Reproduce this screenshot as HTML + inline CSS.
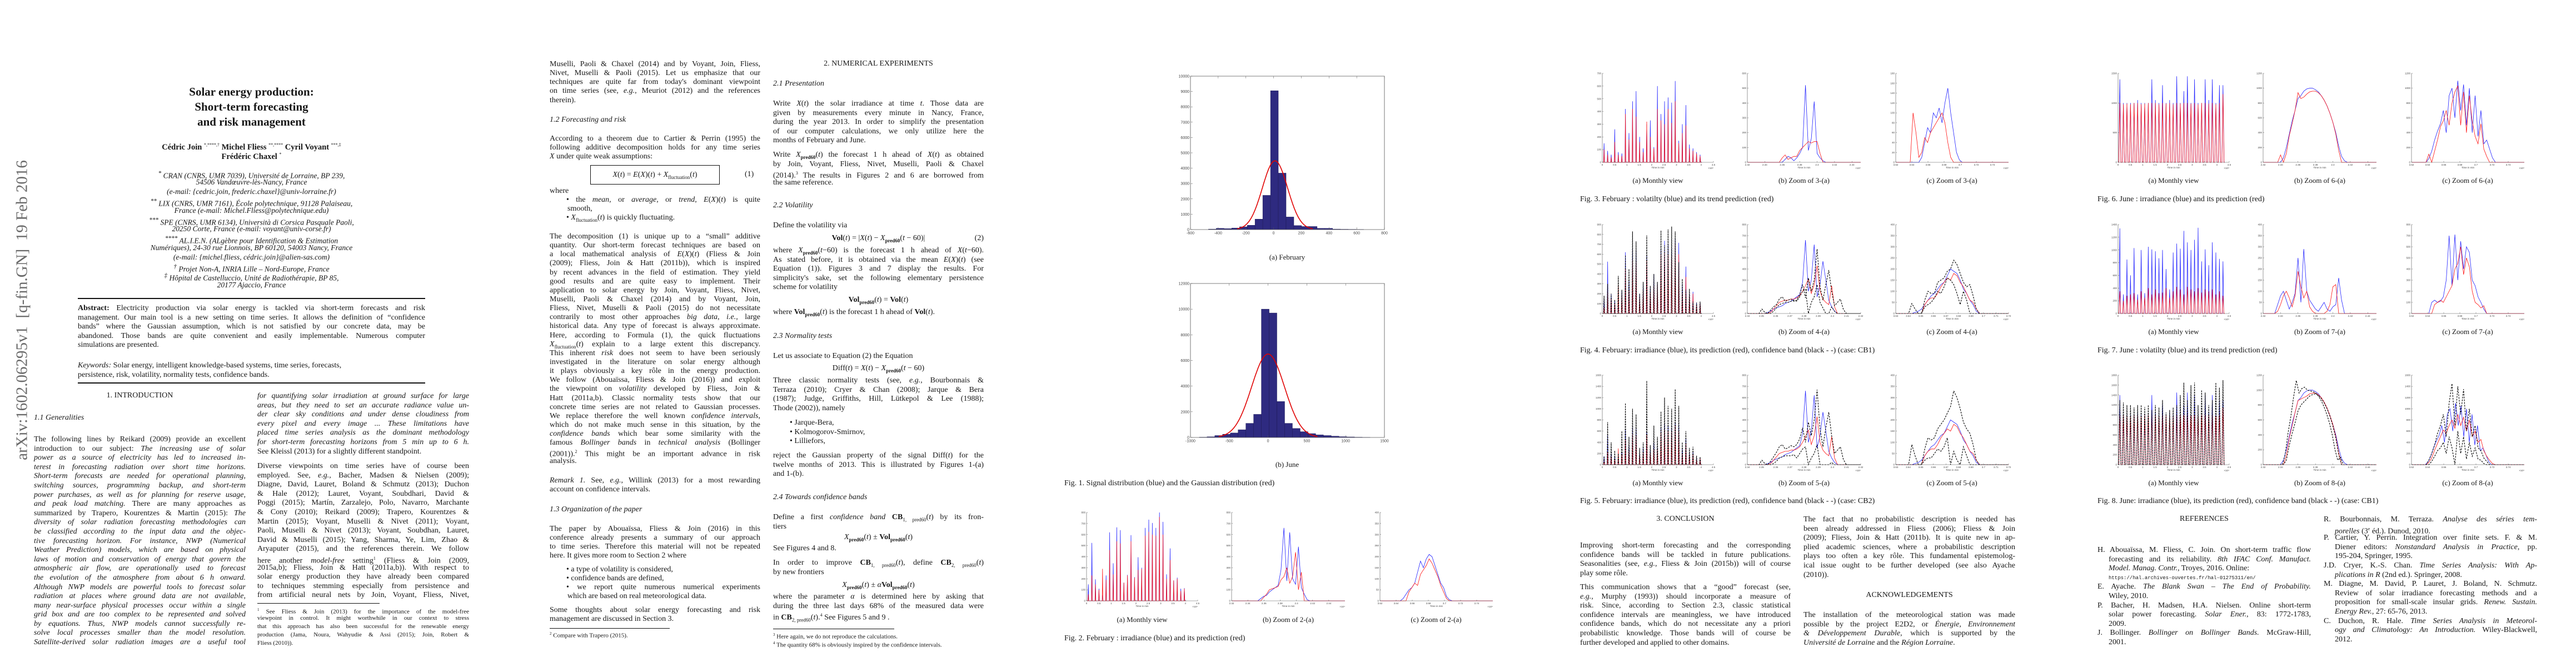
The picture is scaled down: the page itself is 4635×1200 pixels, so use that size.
<!DOCTYPE html>
<html><head><meta charset="utf-8">
<style>
html,body{margin:0;padding:0;background:#fff}
#page{position:relative;width:4635px;height:1200px;overflow:hidden;background:#fff;color:#161616;font-family:"Liberation Serif",serif}
.b{position:absolute;font-size:14px}
.b>div{height:16.6px;line-height:16.6px;white-space:nowrap}
.s>div{height:16.15px;line-height:16.15px}
.j{text-align:justify;text-align-last:justify}
.c{text-align:center}
.ind{padding-left:30px}
.bul{padding-left:18px}
.hang{padding-left:20px}
.fn{font-size:11px}
.fn>div{height:15px;line-height:15px}
.rule{position:absolute;background:#111}
.cap{position:absolute;font-size:14px;white-space:nowrap}
.sub{position:absolute;font-size:13px;white-space:nowrap;transform:translateX(-50%)}
#figs{position:absolute;left:0;top:0}
</style></head>
<body>
<div id="page">

<div style="position:absolute;left:40px;top:558px;transform:translate(-50%,-50%) rotate(-90deg);font-size:29px;color:#6a6a6a;white-space:nowrap">arXiv:1602.06295v1&nbsp; [q-fin.GN]&nbsp; 19 Feb 2016</div>

<!-- PAGE 1 -->
<div class="b c" style="left:140px;top:152px;width:625px;font-size:21px;font-weight:bold"><div style="height:27px;line-height:27px">Solar energy production:</div><div style="height:27px;line-height:27px">Short-term forecasting</div><div style="height:27px;line-height:27px">and risk management</div></div>
<div class="b c" style="left:140px;top:253px;width:625px;font-weight:bold;font-size:14.5px"><div>Cédric Join <sup style="font-size:8px;font-weight:normal">*,****,†</sup> Michel Fliess <sup style="font-size:8px;font-weight:normal">**,****</sup> Cyril Voyant <sup style="font-size:8px;font-weight:normal">***,‡</sup></div><div style="height:17px">Frédéric Chaxel <sup style="font-size:8px;font-weight:normal">*</sup></div></div>
<div class="b c" style="left:140px;top:303.6px;width:625px;font-style:italic;font-size:13.5px">
<div style="height:16.8px"><sup>*</sup> CRAN (CNRS, UMR 7039), Université de Lorraine, BP 239,</div>
<div style="height:16.8px">54506 Vandœuvre-lès-Nancy, France</div>
<div style="height:16.8px">(e-mail: {cedric.join, frederic.chaxel}@univ-lorraine.fr)</div>
<div style="height:16.8px"><sup>**</sup> LIX (CNRS, UMR 7161), École polytechnique, 91128 Palaiseau,</div>
<div style="height:16.8px">France (e-mail: Michel.Fliess@polytechnique.edu)</div>
<div style="height:16.8px"><sup>***</sup> SPE (CNRS, UMR 6134), Università di Corsica Pasquale Paoli,</div>
<div style="height:16.8px">20250 Corte, France (e-mail: voyant@univ-corse.fr)</div>
<div style="height:16.8px"><sup>****</sup> AL.I.E.N. (ALgèbre pour Identification &amp; Estimation</div>
<div style="height:16.8px">Numériques), 24-30 rue Lionnois, BP 60120, 54003 Nancy, France</div>
<div style="height:16.8px">(e-mail: {michel.fliess, cédric.join}@alien-sas.com)</div>
<div style="height:16.8px"><sup>†</sup> Projet Non-A, INRIA Lille – Nord-Europe, France</div>
<div style="height:16.8px"><sup>‡</sup> Hôpital de Castelluccio, Unité de Radiothérapie, BP 85,</div>
<div style="height:16.8px">20177 Ajaccio, France</div>
</div>
<div class="rule" style="left:140px;top:536px;width:625px;height:1.6px"></div>
<div class="b" style="left:140px;top:547px;width:625px">
<div class="j"><b>Abstract:</b> Electricity production via solar energy is tackled via short-term forecasts and risk</div>
<div class="j">management. Our main tool is a new setting on time series. It allows the definition of “confidence</div>
<div class="j">bands” where the Gaussian assumption, which is not satisfied by our concrete data, may be</div>
<div class="j">abandoned. Those bands are quite convenient and easily implementable. Numerous computer</div>
<div>simulations are presented.</div>
</div>
<div class="b" style="left:140px;top:650px;width:625px">
<div><i>Keywords:</i> Solar energy, intelligent knowledge-based systems, time series, forecasts,</div>
<div>persistence, risk, volatility, normality tests, confidence bands.</div>
</div>
<div class="rule" style="left:140px;top:688px;width:625px;height:1.6px"></div>

<div class="b c" style="left:61px;top:704px;width:381px"><div>1. INTRODUCTION</div></div>
<div class="b" style="left:61px;top:744px;width:381px;font-style:italic"><div>1.1 Generalities</div></div>
<div class="b" style="left:61px;top:783px;width:381px">
<div class="j">The following lines by Reikard (2009) provide an excellent</div>
<div class="j">introduction to our subject: <i>The increasing use of solar</i></div>
<div class="j"><i>power as a source of electricity has led to increased in-</i></div>
<div class="j"><i>terest in forecasting radiation over short time horizons.</i></div>
<div class="j"><i>Short-term forecasts are needed for operational planning,</i></div>
<div class="j"><i>switching sources, programming backup, and short-term</i></div>
<div class="j"><i>power purchases, as well as for planning for reserve usage,</i></div>
<div class="j"><i>and peak load matching.</i> There are many approaches as</div>
<div class="j">summarized by Trapero, Kourentzes &amp; Martin (2015): <i>The</i></div>
<div class="j"><i>diversity of solar radiation forecasting methodologies can</i></div>
<div class="j"><i>be classified according to the input data and the objec-</i></div>
<div class="j"><i>tive forecasting horizon. For instance, NWP (Numerical</i></div>
<div class="j"><i>Weather Prediction) models, which are based on physical</i></div>
<div class="j"><i>laws of motion and conservation of energy that govern the</i></div>
<div class="j"><i>atmospheric air flow, are operationally used to forecast</i></div>
<div class="j"><i>the evolution of the atmosphere from about 6 h onward.</i></div>
<div class="j"><i>Although NWP models are powerful tools to forecast solar</i></div>
<div class="j"><i>radiation at places where ground data are not available,</i></div>
<div class="j"><i>many near-surface physical processes occur within a single</i></div>
<div class="j"><i>grid box and are too complex to be represented and solved</i></div>
<div class="j"><i>by equations. Thus, NWP models cannot successfully re-</i></div>
<div class="j"><i>solve local processes smaller than the model resolution.</i></div>
<div class="j"><i>Satellite-derived solar radiation images are a useful tool</i></div>
</div>
<div class="b" style="left:463px;top:705px;width:381px">
<div class="j"><i>for quantifying solar irradiation at ground surface for large</i></div>
<div class="j"><i>areas, but they need to set an accurate radiance value un-</i></div>
<div class="j"><i>der clear sky conditions and under dense cloudiness from</i></div>
<div class="j"><i>every pixel and every image ... These limitations have</i></div>
<div class="j"><i>placed time series analysis as the dominant methodology</i></div>
<div class="j"><i>for short-term forecasting horizons from 5 min up to 6 h.</i></div>
<div>See Kleissl (2013) for a slightly different standpoint.</div>
</div>
<div class="b" style="left:463px;top:831px;width:381px">
<div class="j">Diverse viewpoints on time series have of course been</div>
<div class="j">employed. See, <i>e.g.</i>, Bacher, Madsen &amp; Nielsen (2009);</div>
<div class="j">Diagne, David, Lauret, Boland &amp; Schmutz (2013); Duchon</div>
<div class="j">&amp; Hale (2012); Lauret, Voyant, Soubdhari, David &amp;</div>
<div class="j">Poggi (2015); Martín, Zarzalejo, Polo, Navarro, Marchante</div>
<div class="j">&amp; Cony (2010); Reikard (2009); Trapero, Kourentzes &amp;</div>
<div class="j">Martin (2015); Voyant, Muselli &amp; Nivet (2011); Voyant,</div>
<div class="j">Paoli, Muselli &amp; Nivet (2013); Voyant, Soubdhan, Lauret,</div>
<div class="j">David &amp; Muselli (2015); Yang, Sharma, Ye, Lim, Zhao &amp;</div>
<div class="j">Aryaputer (2015), and the references therein. We follow</div>
<div class="j">here another <i>model-free</i> setting<sup style="font-size:8px">1</sup> (Fliess &amp; Join (2009,</div>
<div class="j">2015a,b); Fliess, Join &amp; Hatt (2011a,b)). With respect to</div>
<div class="j">solar energy production they have already been compared</div>
<div class="j">to techniques stemming especially from persistence and</div>
<div class="j">from artificial neural nets by Join, Voyant, Fliess, Nivet,</div>
</div>
<div class="rule" style="left:463px;top:1085px;width:220px;height:1px"></div>
<div class="b fn" style="left:463px;top:1090px;width:381px">
<div class="j"><sup style="font-size:7px">1</sup> See Fliess &amp; Join (2013) for the importance of the model-free</div>
<div class="j">viewpoint in control. It might worthwhile in our context to stress</div>
<div class="j">that this approach has also been successful for the renewable energy</div>
<div class="j">production (Jama, Noura, Wahyudie &amp; Assi (2015); Join, Robert &amp;</div>
<div>Fliess (2010)).</div>
</div>

<!-- PAGE 2 LEFT -->
<div class="b s" style="left:989px;top:108px;width:379px">
<div class="j">Muselli, Paoli &amp; Chaxel (2014) and by Voyant, Join, Fliess,</div>
<div class="j">Nivet, Muselli &amp; Paoli (2015). Let us emphasize that our</div>
<div class="j">techniques are quite far from today's dominant viewpoint</div>
<div class="j">on time series (see, <i>e.g.</i>, Meuriot (2012) and the references</div>
<div>therein).</div>
</div>
<div class="b" style="left:989px;top:208px;width:379px;font-style:italic"><div>1.2 Forecasting and risk</div></div>
<div class="b s" style="left:989px;top:242px;width:379px">
<div class="j">According to a theorem due to Cartier &amp; Perrin (1995) the</div>
<div class="j">following additive decomposition holds for any time series</div>
<div><i>X</i> under quite weak assumptions:</div>
</div>
<div style="position:absolute;left:1062px;top:297px;width:231px;height:33px;border:1.3px solid #111;font-size:14px;line-height:33px;text-align:center;white-space:nowrap"><i>X</i>(<i>t</i>) = <i>E</i>(<i>X</i>)(<i>t</i>) + <i>X</i><sub style="font-size:9px">fluctuation</sub>(<i>t</i>)</div>
<div class="b" style="left:1340px;top:306px"><div>(1)</div></div>
<div class="b s" style="left:989px;top:336px;width:379px">
<div>where</div>
<div class="j ind">• the <i>mean</i>, or <i>average</i>, or <i>trend</i>, <i>E</i>(<i>X</i>)(<i>t</i>) is quite</div>
<div style="padding-left:32px">smooth,</div>
<div class="ind">• <i>X</i><sub style="font-size:9px">fluctuation</sub>(<i>t</i>) is quickly fluctuating.</div>
</div>
<div class="b s" style="left:989px;top:418px;width:379px">
<div class="j">The decomposition (1) is unique up to a “small” additive</div>
<div class="j">quantity. Our short-term forecast techniques are based on</div>
<div class="j">a local mathematical analysis of <i>E</i>(<i>X</i>)(<i>t</i>) (Fliess &amp; Join</div>
<div class="j">(2009); Fliess, Join &amp; Hatt (2011b)), which is inspired</div>
<div class="j">by recent advances in the field of estimation. They yield</div>
<div class="j">good results and are quite easy to implement. Their</div>
<div class="j">application to solar energy by Join, Voyant, Fliess, Nivet,</div>
<div class="j">Muselli, Paoli &amp; Chaxel (2014) and by Voyant, Join,</div>
<div class="j">Fliess, Nivet, Muselli &amp; Paoli (2015) do not necessitate</div>
<div class="j">contrarily to most other approaches <i>big data</i>, <i>i.e.</i>, large</div>
<div class="j">historical data. Any type of forecast is always approximate.</div>
<div class="j">Here, according to Formula (1), the quick fluctuations</div>
<div class="j"><i>X</i><sub style="font-size:9px">fluctuation</sub>(<i>t</i>) explain to a large extent this discrepancy.</div>
<div class="j">This inherent <i>risk</i> does not seem to have been seriously</div>
<div class="j">investigated in the literature on solar energy although</div>
<div class="j">it plays obviously a key rôle in the energy production.</div>
<div class="j">We follow (Abouaïssa, Fliess &amp; Join (2016)) and exploit</div>
<div class="j">the viewpoint on <i>volatility</i> developed by Fliess, Join &amp;</div>
<div class="j">Hatt (2011a,b). Classic normality tests show that our</div>
<div class="j">concrete time series are not related to Gaussian processes.</div>
<div class="j">We replace therefore the well known <i>confidence intervals</i>,</div>
<div class="j">which do not make much sense in this situation, by the</div>
<div class="j"><i>confidence bands</i> which bear some similarity with the</div>
<div class="j">famous <i>Bollinger bands</i> in <i>technical analysis</i> (Bollinger</div>
<div class="j">(2001)).<sup style="font-size:8px">2</sup> This might be an important advance in risk</div>
<div>analysis.</div>
</div>
<div class="b s" style="left:989px;top:857px;width:379px">
<div class="j"><i>Remark 1.</i> See, <i>e.g.</i>, Willink (2013) for a most rewarding</div>
<div>account on confidence intervals.</div>
</div>
<div class="b" style="left:989px;top:909px;width:379px;font-style:italic"><div>1.3 Organization of the paper</div></div>
<div class="b s" style="left:989px;top:944px;width:379px">
<div class="j">The paper by Abouaïssa, Fliess &amp; Join (2016) in this</div>
<div class="j">conference already presents a summary of our approach</div>
<div class="j">to time series. Therefore this material will not be repeated</div>
<div>here. It gives more room to Section 2 where</div>
</div>
<div class="b s" style="left:989px;top:1017px;width:379px">
<div class="ind">• a type of volatility is considered,</div>
<div class="ind">• confidence bands are defined,</div>
<div class="j ind">• we report quite numerous numerical experiments</div>
<div style="padding-left:32px">which are based on real meteorological data.</div>
</div>
<div class="b s" style="left:989px;top:1090px;width:379px">
<div class="j">Some thoughts about solar energy forecasting and risk</div>
<div>management are discussed in Section 3.</div>
</div>
<div class="rule" style="left:989px;top:1130px;width:216px;height:1px"></div>
<div class="b fn" style="left:989px;top:1133px;width:379px"><div><sup style="font-size:7px">2</sup> Compare with Trapero (2015).</div></div>

<!-- PAGE 2 RIGHT -->
<div class="b c" style="left:1391px;top:107px;width:379px"><div>2. NUMERICAL EXPERIMENTS</div></div>
<div class="b" style="left:1391px;top:143px;font-style:italic"><div>2.1 Presentation</div></div>
<div class="b" style="left:1391px;top:179px;width:379px">
<div class="j">Write <i>X</i>(<i>t</i>) the solar irradiance at time <i>t</i>. Those data are</div>
<div class="j">given by measurements every minute in Nancy, France,</div>
<div class="j">during the year 2013. In order to simplify the presentation</div>
<div class="j">of our computer calculations, we only utilize here the</div>
<div>months of February and June.</div>
</div>
<div class="b" style="left:1391px;top:271px;width:379px">
<div class="j">Write <i>X</i><sub style="font-size:9px"><b>pred60</b></sub>(<i>t</i>) the forecast 1 h ahead of <i>X</i>(<i>t</i>) as obtained</div>
<div class="j">by Join, Voyant, Fliess, Nivet, Muselli, Paoli &amp; Chaxel</div>
<div class="j">(2014).<sup style="font-size:8px">3</sup> The results in Figures 2 and 6 are borrowed from</div>
<div>the same reference.</div>
</div>
<div class="b" style="left:1391px;top:362px;font-style:italic"><div>2.2 Volatility</div></div>
<div class="b" style="left:1391px;top:398px;width:379px"><div>Define the volatility via</div></div>
<div class="b c" style="left:1391px;top:421px;width:379px"><div><b>Vol</b>(<i>t</i>) = |<i>X</i>(<i>t</i>) − <i>X</i><sub style="font-size:9px"><b>pred60</b></sub>(<i>t</i> − 60)|<span style="position:absolute;right:0">(2)</span></div></div>
<div class="b" style="left:1391px;top:443px;width:379px">
<div class="j">where <i>X</i><sub style="font-size:9px"><b>pred60</b></sub>(<i>t</i>−60) is the forecast 1 h ahead of <i>X</i>(<i>t</i>−60).</div>
<div class="j">As stated before, it is obtained via the mean <i>E</i>(<i>X</i>)(<i>t</i>) (see</div>
<div class="j">Equation (1)). Figures 3 and 7 display the results. For</div>
<div class="j">simplicity's sake, set the following elementary persistence</div>
<div>scheme for volatility</div>
</div>
<div class="b c" style="left:1391px;top:532px;width:379px"><div><b>Vol</b><sub style="font-size:9px"><b>pred60</b></sub>(<i>t</i>) = <b>Vol</b>(<i>t</i>)</div></div>
<div class="b" style="left:1391px;top:554px;width:379px"><div>where <b>Vol</b><sub style="font-size:9px"><b>pred60</b></sub>(<i>t</i>) is the forecast 1 h ahead of <b>Vol</b>(<i>t</i>).</div></div>
<div class="b" style="left:1391px;top:597px;font-style:italic"><div>2.3 Normality tests</div></div>
<div class="b" style="left:1391px;top:633px;width:379px"><div>Let us associate to Equation (2) the Equation</div></div>
<div class="b c" style="left:1391px;top:655px;width:379px"><div>Diff(<i>t</i>) = <i>X</i>(<i>t</i>) − <i>X</i><sub style="font-size:9px"><b>pred60</b></sub>(<i>t</i> − 60)</div></div>
<div class="b" style="left:1391px;top:677px;width:379px">
<div class="j">Three classic normality tests (see, <i>e.g.</i>, Bourbonnais &amp;</div>
<div class="j">Terraza (2010); Cryer &amp; Chan (2008); Jarque &amp; Bera</div>
<div class="j">(1987); Judge, Griffiths, Hill, Lütkepol &amp; Lee (1988);</div>
<div>Thode (2002)), namely</div>
</div>
<div class="b" style="left:1391px;top:753px;width:379px">
<div class="ind">• Jarque-Bera,</div>
<div class="ind">• Kolmogorov-Smirnov,</div>
<div class="ind">• Lilliefors,</div>
</div>
<div class="b" style="left:1391px;top:812px;width:379px">
<div class="j">reject the Gaussian property of the signal Diff(<i>t</i>) for the</div>
<div class="j">twelve months of 2013. This is illustrated by Figures 1-(a)</div>
<div>and 1-(b).</div>
</div>
<div class="b" style="left:1391px;top:887px;font-style:italic"><div>2.4 Towards confidence bands</div></div>
<div class="b" style="left:1391px;top:923px;width:379px">
<div class="j">Define a first <i>confidence band</i> <b>CB</b><sub style="font-size:9px">1, pred60</sub>(<i>t</i>) by its fron-</div>
<div>tiers</div>
</div>
<div class="b c" style="left:1391px;top:959px;width:379px"><div><i>X</i><sub style="font-size:9px"><b>pred60</b></sub>(<i>t</i>) ± <b>Vol</b><sub style="font-size:9px"><b>pred60</b></sub>(<i>t</i>)</div></div>
<div class="b" style="left:1391px;top:979px;width:379px"><div>See Figures 4 and 8.</div></div>
<div class="b" style="left:1391px;top:1005px;width:379px">
<div class="j">In order to improve <b>CB</b><sub style="font-size:9px">1, pred60</sub>(<i>t</i>), define <b>CB</b><sub style="font-size:9px">2, pred60</sub>(<i>t</i>)</div>
<div>by new frontiers</div>
</div>
<div class="b c" style="left:1391px;top:1045px;width:379px"><div><i>X</i><sub style="font-size:9px"><b>pred60</b></sub>(<i>t</i>) ± <i>α</i><b>Vol</b><sub style="font-size:9px"><b>pred60</b></sub>(<i>t</i>)</div></div>
<div class="b" style="left:1391px;top:1066px;width:379px">
<div class="j">where the parameter <i>α</i> is determined here by asking that</div>
<div class="j">during the three last days 68% of the measured data were</div>
<div>in <b>CB</b><sub style="font-size:9px">2, pred60</sub>(<i>t</i>).<sup style="font-size:8px">4</sup> See Figures 5 and 9 .</div>
</div>
<div class="rule" style="left:1391px;top:1131px;width:218px;height:1px"></div>
<div class="b fn" style="left:1391px;top:1135px;width:379px">
<div><sup style="font-size:7px">3</sup> Here again, we do not reproduce the calculations.</div>
<div><sup style="font-size:7px">4</sup> The quantity 68% is obviously inspired by the confidence intervals.</div>
</div>

<!-- FIGURE CAPTIONS -->
<div class="sub" style="left:2316px;top:455px">(a) February</div>
<div class="sub" style="left:2316px;top:828px">(b) June</div>
<div class="cap" style="left:1915px;top:862px">Fig. 1. Signal distribution (blue) and the Gaussian distribution (red)</div>
<div class="sub" style="left:2055px;top:1107px">(a) Monthly view</div>
<div class="sub" style="left:2318px;top:1107px">(b) Zoom of 2-(a)</div>
<div class="sub" style="left:2584px;top:1107px">(c) Zoom of 2-(a)</div>
<div class="cap" style="left:1915px;top:1141px">Fig. 2. February : irradiance (blue) and its prediction (red)</div>

<div class="sub" style="left:2983px;top:317px">(a) Monthly view</div>
<div class="sub" style="left:3246px;top:317px">(b) Zoom of 3-(a)</div>
<div class="sub" style="left:3512px;top:317px">(c) Zoom of 3-(a)</div>
<div class="cap" style="left:2843px;top:351px">Fig. 3. February : volatilty (blue) and its trend prediction (red)</div>
<div class="sub" style="left:2983px;top:589px">(a) Monthly view</div>
<div class="sub" style="left:3246px;top:589px">(b) Zoom of 4-(a)</div>
<div class="sub" style="left:3512px;top:589px">(c) Zoom of 4-(a)</div>
<div class="cap" style="left:2843px;top:623px">Fig. 4. February: irradiance (blue), its prediction (red), confidence band (black - -) (case: CB1)</div>
<div class="sub" style="left:2983px;top:861px">(a) Monthly view</div>
<div class="sub" style="left:3246px;top:861px">(b) Zoom of 5-(a)</div>
<div class="sub" style="left:3512px;top:861px">(c) Zoom of 5-(a)</div>
<div class="cap" style="left:2843px;top:894px">Fig. 5. February: irradiance (blue), its prediction (red), confidence band (black - -) (case: CB2)</div>

<div class="sub" style="left:3911px;top:317px">(a) Monthly view</div>
<div class="sub" style="left:4174px;top:317px">(b) Zoom of 6-(a)</div>
<div class="sub" style="left:4440px;top:317px">(c) Zoom of 6-(a)</div>
<div class="cap" style="left:3774px;top:351px">Fig. 6. June : irradiance (blue) and its prediction (red)</div>
<div class="sub" style="left:3911px;top:589px">(a) Monthly view</div>
<div class="sub" style="left:4174px;top:589px">(b) Zoom of 7-(a)</div>
<div class="sub" style="left:4440px;top:589px">(c) Zoom of 7-(a)</div>
<div class="cap" style="left:3774px;top:623px">Fig. 7. June : volatilty (blue) and its trend prediction (red)</div>
<div class="sub" style="left:3911px;top:861px">(a) Monthly view</div>
<div class="sub" style="left:4174px;top:861px">(b) Zoom of 8-(a)</div>
<div class="sub" style="left:4440px;top:861px">(c) Zoom of 8-(a)</div>
<div class="cap" style="left:3774px;top:894px">Fig. 8. June: irradiance (blue), its prediction (red), confidence band (black - -) (case: CB1)</div>

<!-- PAGE 4 TEXT -->
<div class="b c" style="left:2843px;top:926px;width:379px"><div>3. CONCLUSION</div></div>
<div class="b" style="left:2843px;top:974px;width:379px">
<div class="j">Improving short-term forecasting and the corresponding</div>
<div class="j">confidence bands will be tackled in future publications.</div>
<div class="j">Seasonalities (see, <i>e.g.</i>, Fliess &amp; Join (2015b)) will of course</div>
<div>play some rôle.</div>
</div>
<div class="b" style="left:2843px;top:1049px;width:379px">
<div class="j">This communication shows that a “good” forecast (see,</div>
<div class="j"><i>e.g.</i>, Murphy (1993)) should incorporate a measure of</div>
<div class="j">risk. Since, according to Section 2.3, classic statistical</div>
<div class="j">confidence intervals are meaningless, we have introduced</div>
<div class="j">confidence bands, which do not necessitate any a priori</div>
<div class="j">probabilistic knowledge. Those bands will of course be</div>
<div>further developed and applied to other domains.</div>
</div>
<div class="b" style="left:3245px;top:927px;width:381px">
<div class="j">The fact that no probabilistic description is needed has</div>
<div class="j">been already addressed in Fliess (2006); Fliess &amp; Join</div>
<div class="j">(2009); Fliess, Join &amp; Hatt (2011b). It is quite new in ap-</div>
<div class="j">plied academic sciences, where a probabilistic description</div>
<div class="j">plays too often a key rôle. This fundamental epistemolog-</div>
<div class="j">ical issue ought to be further developed (see also Ayache</div>
<div>(2010)).</div>
</div>
<div class="b c" style="left:3245px;top:1063px;width:381px"><div>ACKNOWLEDGEMENTS</div></div>
<div class="b" style="left:3245px;top:1099px;width:381px">
<div class="j">The installation of the meteorological station was made</div>
<div class="j">possible by the project E2D2, or <i>Énergie, Environnement</i></div>
<div class="j"><i>&amp; Développement Durable</i>, which is supported by the</div>
<div><i>Université de Lorraine</i> and the <i>Région Lorraine</i>.</div>
</div>

<!-- PAGE 5 REFERENCES -->
<div class="b c" style="left:3774px;top:926px;width:384px"><div>REFERENCES</div></div>
<div class="b" style="left:3774px;top:982px;width:384px">
<div class="j">H. Abouaïssa, M. Fliess, C. Join. On short-term traffic flow</div>
<div class="j hang">forecasting and its reliability. <i>8th IFAC Conf. Manufact.</i></div>
<div class="hang"><i>Model. Manag. Contr.</i>, Troyes, 2016. Online:</div>
<div class="hang" style="font-family:'Liberation Mono',monospace;font-size:9px">https://hal.archives-ouvertes.fr/hal-01275311/en/</div>
<div class="j">E. Ayache. <i>The Blank Swan – The End of Probability.</i></div>
<div class="hang">Wiley, 2010.</div>
<div class="j">P. Bacher, H. Madsen, H.A. Nielsen. Online short-term</div>
<div class="j hang">solar power forecasting. <i>Solar Ener.</i>, 83: 1772-1783,</div>
<div class="hang">2009.</div>
<div class="j">J. Bollinger. <i>Bollinger on Bollinger Bands.</i> McGraw-Hill,</div>
<div class="hang">2001.</div>
</div>
<div class="b" style="left:4181px;top:927px;width:384px">
<div class="j">R. Bourbonnais, M. Terraza. <i>Analyse des séries tem-</i></div>
<div class="hang"><i>porelles</i> (3<sup style="font-size:8px">e</sup> éd.). Dunod, 2010.</div>
<div class="j">P. Cartier, Y. Perrin. Integration over finite sets. F. &amp; M.</div>
<div class="j hang">Diener editors: <i>Nonstandard Analysis in Practice</i>, pp.</div>
<div class="hang">195-204, Springer, 1995.</div>
<div class="j">J.D. Cryer, K.-S. Chan. <i>Time Series Analysis: With Ap-</i></div>
<div class="hang"><i>plications in R</i> (2nd ed.). Springer, 2008.</div>
<div class="j">M. Diagne, M. David, P. Lauret, J. Boland, N. Schmutz.</div>
<div class="j hang">Review of solar irradiance forecasting methods and a</div>
<div class="j hang">proposition for small-scale insular grids. <i>Renew. Sustain.</i></div>
<div class="hang"><i>Energy Rev.</i>, 27: 65-76, 2013.</div>
<div class="j">C. Duchon, R. Hale. <i>Time Series Analysis in Meteorol-</i></div>
<div class="j hang"><i>ogy and Climatology: An Introduction.</i> Wiley-Blackwell,</div>
<div class="hang">2012.</div>
</div>

<svg id="figs" width="4635" height="1200"></svg>
</div>

<script>
// ---------- DATA ----------
// Fig 1 histograms
const histEdgesFeb = [-470,-414,-358,-302,-246,-190,-134,-78,-22,34,90,146,202,258,314,370,426,482,538,594,650];
const histCountsFeb = [30,80,60,100,180,280,680,2230,9050,3680,820,260,200,200,80,80,30,20,15,10];
const gaussFeb = [4480,10,91]; // peak, mean, sigma
const histEdgesJun = [-886,-786,-686,-586,-486,-386,-286,-186,-86,14,114,214,314,414,514,614,714,814,914,1014,1114,1214,1314];
const histCountsJun = [20,50,150,250,350,600,1100,1800,10000,9700,2800,1100,700,450,300,200,150,100,60,40,20,10];
const gaussJun = [6500,0,212];

// Monthly daily peaks (February: 28 days, June: 30 days)
const blue2a = [150,525,195,110,50,230,620,340,665,640,165,235,595,215,395,300,660,735,705,660,800,715,240,475,185,210,110,115];
const red2a  = [60,230,150,100,290,190,460,240,540,520,165,230,540,210,280,290,590,625,600,590,760,600,200,370,185,200,90,110];
const blue3a = [150,90,60,260,80,70,420,230,480,560,200,110,300,330,120,600,380,480,510,470,640,170,300,450,140,110,80,60];
const red3a  = [100,60,40,160,60,50,380,180,420,360,160,80,320,200,110,420,330,300,420,310,480,150,230,290,110,90,70,50];
const blue4a = [150,525,195,130,80,230,620,340,665,640,200,300,595,260,395,300,660,735,705,660,760,715,300,475,200,220,110,120];
const red4a  = [60,230,150,100,290,190,460,240,540,520,165,230,540,210,280,290,590,625,600,590,700,600,200,370,185,200,90,110];
const band4a = [180,300,200,140,380,240,590,450,830,730,200,320,790,280,400,320,840,690,850,880,830,520,350,240,250,120,110,120];
const band5a = [150,760,400,250,200,600,1100,500,1000,900,300,400,1500,350,700,500,950,1200,1050,1000,1350,1050,400,600,300,320,160,140];
const blue6a = [1400,1000,1000,1000,1000,1050,1000,1000,1000,1400,1050,1000,1300,1000,1050,1000,1450,1000,1200,1450,1000,1400,1000,1000,1400,1050,1400,1000,1300,1300];
const red6a  = [1000,980,990,980,1000,1000,980,990,1000,1000,1000,980,1000,990,1000,980,1000,990,1000,1000,990,1000,980,1000,1000,990,1000,980,1000,1150];
const blue7a = [1340,300,850,600,1030,300,1000,320,1050,1010,980,870,1000,700,380,960,1100,1020,1300,1120,1000,1160,1350,820,1010,760,1120,960,860,820];
const red7a  = [350,200,280,300,320,220,350,250,400,300,380,320,330,400,250,350,420,380,300,420,380,350,400,330,380,350,380,300,350,280];
const band8a = [1300,1250,1200,1200,1150,1200,1200,1160,1200,1100,1200,1150,1300,1050,1100,1150,1200,1400,1650,1300,1600,1650,1200,1500,1450,1200,1300,1650,1550,1700];

// Zoom series (evenly sampled over each chart's time window)
const blue2b = [0,0,0,0,0,0,0,0,0,0,20,40,50,80,100,120,140,280,660,180,620,200,150,490,120,60,10,0,0,0,0,0,0,0,0,0,0,0,0,0];
const red2b  = [0,0,0,0,0,0,0,0,0,0,0,30,60,100,110,120,130,190,220,300,160,220,440,100,260,0,0,0,0,0,0,0,0,0,0,0,0,0,0,0];
const blue2c = [0,0,0,0,0,0,0,0,10,30,50,60,80,130,180,150,190,210,200,160,120,80,60,20,5,0,0,0,0,0,0,0,0,0,0,0,0,0,0,0];
const red2c  = [0,0,0,0,0,0,0,0,0,0,40,60,80,70,120,140,160,190,170,140,110,70,40,10,0,0,0,0,0,0,0,0,0,0,0,0,0,0,0,0];
const blue3b = [0,0,0,0,0,0,0,0,0,0,0,0,0,20,40,30,10,30,60,100,520,80,160,410,60,30,10,0,0,0,0,0,0,0,0,0,0,0,0,0];
const red3b  = [0,0,0,0,0,0,0,0,0,0,0,0,30,50,20,30,40,40,80,100,120,140,130,140,140,60,0,0,0,0,0,0,0,0,0,0,0,0,0,0];
const blue3c = [0,0,0,0,0,0,0,0,0,10,40,70,60,100,90,110,80,120,150,100,60,20,5,0,0,0,0,0,0,0,0,0,0,0,0,0,0,0,0,0];
const red3c  = [0,0,0,0,0,0,100,60,10,20,50,40,60,70,80,90,100,80,40,10,0,0,0,0,0,0,0,0,0,0,0,0,0,0,0,0,0,0,0,0];
const blue4b = [0,0,0,0,0,0,0,10,20,40,50,60,70,90,100,110,130,150,170,280,660,200,300,620,150,260,470,300,120,60,20,0,0,0,0,0,0,0,0,0];
const red4b  = [0,0,0,0,0,0,0,0,10,40,70,100,110,120,120,130,130,140,160,200,250,310,180,260,430,200,130,100,80,250,60,0,0,0,0,0,0,0,0,0];
const up4b   = [0,0,0,0,0,40,10,0,30,60,80,130,150,110,120,130,110,120,170,260,140,320,200,300,580,240,120,260,390,200,70,100,130,40,0,0,0,0,0,0];
const lo4b   = [0,0,0,0,0,0,0,0,0,20,50,80,90,100,100,110,120,110,150,200,220,0,100,150,260,100,50,0,0,60,20,0,0,0,0,0,0,0,0,0];
const blue4c = [0,0,0,0,0,0,5,10,20,40,60,80,90,110,130,140,170,200,190,180,150,110,90,60,40,10,0,0,0,0,0,0,0,0,0,0];
const red4c  = [0,0,0,0,0,0,0,0,0,40,60,70,70,90,120,140,160,150,180,170,140,120,90,60,50,20,0,0,0,0,0,0,0,0,0,0];
const up4c   = [0,0,0,0,0,45,20,0,0,60,100,90,90,140,150,160,190,200,240,220,180,140,120,130,80,20,0,0,0,0,0,0,0,0,0,0];
const lo4c   = [0,0,0,0,0,0,0,0,0,30,40,50,70,100,90,120,160,150,130,90,40,100,60,0,0,0,0,0,0,0,0,0,0,0,0,0];
const up5b   = [0,0,0,0,0,40,10,0,30,70,110,160,180,140,150,170,160,180,230,330,200,380,260,400,670,320,160,330,470,260,100,130,160,50,0,0,0,0,0,0];
const lo5b   = [0,0,0,0,0,0,0,0,0,10,30,60,70,80,80,80,90,60,100,140,160,0,60,100,180,0,0,0,0,20,0,0,0,0,0,0,0,0,0,0];
const up5c   = [0,0,0,0,0,90,40,0,0,70,120,110,120,160,180,200,230,260,330,300,250,190,160,140,90,20,0,0,0,0,0,0,0,0,0,0];
const lo5c   = [0,0,0,0,0,0,0,0,0,20,30,30,50,70,60,80,120,0,60,20,0,80,40,0,0,0,0,0,0,0,0,0,0,0,0,0];
const blue6b = [0,0,0,0,0,0,0,60,200,380,560,700,860,900,960,990,1000,1000,980,950,900,840,760,660,540,400,220,80,20,0,0,0,0,0,0,0,0,0,0,0];
const red6b  = [0,0,0,0,0,0,100,0,120,360,520,700,940,860,880,920,950,960,960,940,900,840,760,660,540,380,160,0,0,0,0,0,0,0,0,0,0,0,0,0];
const blue6c = [0,0,0,0,0,0,50,150,300,420,520,700,400,900,1000,600,1100,700,1050,500,1000,400,900,350,700,250,300,180,60,0,0,0,0,0,0,0,0,0,0,0];
const red6c  = [0,0,0,0,0,0,110,0,150,300,480,560,700,500,800,950,1030,500,950,400,900,550,350,250,520,180,80,0,0,0,0,0,0,0,0,0,0,0,0,0];
const blue7b = [0,0,0,0,0,40,80,100,60,20,50,90,250,50,290,100,60,40,20,10,30,50,20,10,30,40,160,60,0,0,0,0,0,0,0,0,0,0,0,0];
const red7b  = [0,0,0,0,0,10,40,80,100,70,30,80,190,120,70,100,30,10,0,0,0,0,10,40,120,130,0,0,0,0,0,0,0,0,0,0,0,0,0,0];
const blue7c = [0,0,0,0,0,0,0,100,120,100,110,150,300,700,250,710,300,650,400,600,550,300,250,150,100,40,0,0,0,0,0,0,0,0,0,0,0,0,0,0];
const red7c  = [0,0,0,0,0,0,0,0,80,100,120,100,150,200,250,400,450,600,350,500,420,200,100,80,50,70,0,0,0,0,0,0,0,0,0,0,0,0,0,0];
const blue8b = [0,0,0,0,0,0,0,60,200,380,560,700,860,900,960,990,1000,1000,980,950,900,840,760,660,540,400,220,80,20,0,0,0,0,0,0,0,0,0,0,0];
const red8b  = [0,0,0,0,0,0,0,0,120,360,520,700,860,880,900,920,950,960,960,940,900,840,760,660,540,380,160,0,0,0,0,0,0,0,0,0,0,0,0,0];
const up8b   = [0,0,0,0,0,0,0,0,140,420,640,900,1130,960,1020,1040,1000,990,980,960,920,860,780,680,560,400,200,60,100,0,0,0,0,0,0,0,0,0,0,0,0,0];
const lo8b   = [0,0,0,0,0,0,0,0,60,260,420,560,720,800,840,880,920,940,950,930,890,830,750,650,520,360,140,0,0,0,0,0,0,0,0,0,0,0,0,0];
const blue8c = [0,0,0,0,0,0,50,150,300,420,520,700,400,900,1000,600,1100,700,1050,500,1000,400,900,350,700,250,300,180,60,0,0,0,0,0,0,0,0,0,0,0,0,0];
const red8c  = [0,0,0,0,0,0,40,120,260,380,500,620,560,700,800,650,900,700,850,600,800,500,600,400,450,250,150,80,20,0,0,0,0,0,0,0,0,0,0,0];
const up8c   = [0,0,0,0,0,0,80,200,350,560,700,900,500,1100,1450,700,1400,900,1350,600,1000,500,700,300,250,120,60,0,0,0,0,0,0,0,0,0,0,0,0,0];
const lo8c   = [0,0,0,0,0,0,0,60,150,250,300,400,200,500,300,0,600,200,500,100,400,150,300,100,80,20,0,0,0,0,0,0,0,0,0,0,0,0,0,0];

// Tick arrays
const tMonthFeb = [0,0.5,1,1.5,2,2.5,3,3.5,4,4.5];
const tZoomB = [2.32,2.34,2.36,2.38,2.4,2.42,2.44];
const tZoomC = [3.62,3.64,3.66,3.68,3.7,3.72,3.74];
const tZoomB4 = [2.34,2.35,2.36,2.37,2.38,2.39,2.4,2.41,2.42];
const tZoomC4 = [3.63,3.64,3.65,3.66,3.67,3.68,3.69,3.7,3.71,3.72];

// ---------- DRAWING ----------
const NS = 'http://www.w3.org/2000/svg';
const svg = document.getElementById('figs');
function mk(tag, parent){ const e = document.createElementNS(NS, tag); parent.appendChild(e); return e; }
function range(a,b,s){ const r=[]; for(let v=a; v<=b+1e-9; v+=s) r.push(Math.round(v*1000)/1000); return r; }

function drawChart(name, box, xd, yd, yTicks, xTicks, series, opt){
  opt = opt || {};
  const g = mk('g', svg);
  
  
  const sx = v => box.x + (v - xd[0]) / (xd[1] - xd[0]) * box.w;
  const sy = v => box.y + box.h - (v - yd[0]) / (yd[1] - yd[0]) * box.h;
  // series
  series.forEach(s => {
    if (s.kind === 'hist') {
      s.vals.forEach((c, i) => {
        const r = mk('rect', g);
        
        
        const x0 = sx(s.edges[i]), x1 = sx(s.edges[i+1]);
        r.setAttribute('x', x0); r.setAttribute('width', Math.max(0.5, x1 - x0));
        r.setAttribute('y', sy(c)); r.setAttribute('height', sy(0) - sy(c));
        r.setAttribute('fill', '#2e2a80'); r.setAttribute('stroke', '#1d1a55'); r.setAttribute('stroke-width', '0.5');
      });
      return;
    }
    let pts = [];
    if (s.kind === 'gauss') {
      const [pk, mu, sg] = s.vals;
      for (let k = -3; k <= 3.0001; k += 0.05) { const x = mu + k*sg; pts.push([sx(x), sy(pk*Math.exp(-k*k/2))]); }
    } else if (s.kind === 'daily') {
      const L = s.day, f = s.frac;
      s.vals.forEach((v, d) => {
        const x0 = d*L;
        pts.push([sx(x0), sy(0)]);
        pts.push([sx(x0 + (0.5-f)*L), sy(0)]);
        pts.push([sx(x0 + 0.5*L), sy(v)]);
        pts.push([sx(x0 + (0.5+f)*L), sy(0)]);
      });
      pts.push([sx(s.vals.length*L), sy(0)]);
    } else {
      const n = s.vals.length;
      s.vals.forEach((v, i) => pts.push([sx(xd[0] + (xd[1]-xd[0]) * i/(n-1)), sy(Math.min(v, yd[1]))]));
    }
    const p = mk('polyline', g);
    
    
    p.setAttribute('points', pts.map(q => q[0].toFixed(1)+','+q[1].toFixed(1)).join(' '));
    p.setAttribute('fill', 'none');
    p.setAttribute('stroke', s.color);
    p.setAttribute('stroke-width', s.w || 0.8);
    if (s.dash) p.setAttribute('stroke-dasharray', s.dash);
    if (s.op) p.setAttribute('stroke-opacity', s.op);
  });
  // axes
  const ax = mk('path', g);
  
  
  let d = `M${box.x},${box.y} L${box.x},${box.y+box.h} L${box.x+box.w},${box.y+box.h}`;
  if (opt.boxed) d += ` L${box.x+box.w},${box.y} Z`;
  ax.setAttribute('d', d); ax.setAttribute('fill', 'none'); ax.setAttribute('stroke', '#555'); ax.setAttribute('stroke-width', opt.boxed ? 0.8 : 0.6);
  const fs = opt.fs || 4.5, tl = opt.boxed ? 4 : 2;
  yTicks.forEach(t => {
    const y = sy(t);
    const tk = mk('line', g);
    
    
    tk.setAttribute('x1', box.x); tk.setAttribute('x2', box.x + tl); tk.setAttribute('y1', y); tk.setAttribute('y2', y);
    tk.setAttribute('stroke', '#555'); tk.setAttribute('stroke-width', 0.5);
    const tx = mk('text', g);
    
    
    tx.setAttribute('x', box.x - 2); tx.setAttribute('y', y + fs*0.35);
    tx.setAttribute('text-anchor', 'end'); tx.setAttribute('font-size', fs); tx.setAttribute('fill', '#444');
    tx.setAttribute('font-family', 'Liberation Sans, sans-serif');
    tx.textContent = t;
  });
  xTicks.forEach(t => {
    const x = sx(t);
    const tk = mk('line', g);
    
    
    tk.setAttribute('x1', x); tk.setAttribute('x2', x); tk.setAttribute('y1', box.y+box.h); tk.setAttribute('y2', box.y+box.h - tl);
    tk.setAttribute('stroke', '#555'); tk.setAttribute('stroke-width', 0.5);
    if (opt.boxed) {
      const tk2 = mk('line', g);
      
      
      tk2.setAttribute('x1', x); tk2.setAttribute('x2', x); tk2.setAttribute('y1', box.y); tk2.setAttribute('y2', box.y + tl);
      tk2.setAttribute('stroke', '#555'); tk2.setAttribute('stroke-width', 0.5);
    }
    const tx = mk('text', g);
    
    
    tx.setAttribute('x', x); tx.setAttribute('y', box.y + box.h + fs + 1.5);
    tx.setAttribute('text-anchor', 'middle'); tx.setAttribute('font-size', fs); tx.setAttribute('fill', '#444');
    tx.setAttribute('font-family', 'Liberation Sans, sans-serif');
    tx.textContent = t;
  });
  if (!opt.boxed) {
    const xl = mk('text', g);
    
    
    xl.setAttribute('x', box.x + box.w/2); xl.setAttribute('y', box.y + box.h + 2*fs + 2);
    xl.setAttribute('text-anchor', 'middle'); xl.setAttribute('font-size', fs); xl.setAttribute('fill', '#444');
    xl.setAttribute('font-family', 'Liberation Sans, sans-serif');
    xl.textContent = 'Time in min';
    const ex = mk('text', g);
    
    
    ex.setAttribute('x', box.x + box.w); ex.setAttribute('y', box.y + box.h + 2*fs + 3);
    ex.setAttribute('text-anchor', 'end'); ex.setAttribute('font-size', fs); ex.setAttribute('fill', '#444');
    ex.setAttribute('font-family', 'Liberation Sans, sans-serif');
    ex.textContent = '×10⁴';
  }
}

const BLUE = '#1f1fff', RED = '#ff1010', BLK = '#000';
const FEB = 0.144, JUN = 0.144;
const col = [1955, 2216, 2483];
const W = [200, 204, 203];
function bx(page, c, top, bottom){ return {x: col[c] + page*928, y: top, w: W[c], h: bottom - top}; }

// Figure 1
drawChart('fig1a-histogram-february', {x:2142,y:137,w:349,h:276}, [-600,800], [0,10000], range(0,10000,1000), range(-600,800,200),
  [{kind:'hist', edges:histEdgesFeb, vals:histCountsFeb}, {kind:'gauss', vals:gaussFeb, color:'#e00000', w:1.6, name:'gaussian-fit'}], {boxed:true, fs:7});
drawChart('fig1b-histogram-june', {x:2142,y:510,w:349,h:277}, [-1000,1500], [0,12000], range(0,12000,2000), range(-1000,1500,500),
  [{kind:'hist', edges:histEdgesJun, vals:histCountsJun}, {kind:'gauss', vals:gaussJun, color:'#e00000', w:1.6, name:'gaussian-fit'}], {boxed:true, fs:7});

// Figure 2 (page 3)
drawChart('fig2a-monthly', bx(0,0,922,1081), [0,4.5], [0,800], range(0,800,100), tMonthFeb,
  [{kind:'daily', vals:blue2a, day:FEB, frac:0.12, color:BLUE, name:'irradiance-line'},{kind:'daily', vals:red2a, day:FEB, frac:0.1, color:RED, name:'prediction-line'}]);
drawChart('fig2b-zoom', bx(0,1,922,1081), [2.32,2.46], [0,800], range(0,800,100), tZoomB,
  [{vals:blue2b, color:BLUE, name:'irradiance-line'},{vals:red2b, color:RED, name:'prediction-line'}]);
drawChart('fig2c-zoom', bx(0,2,922,1081), [3.62,3.76], [0,400], range(0,400,50), tZoomC,
  [{vals:blue2c, color:BLUE, name:'irradiance-line'},{vals:red2c, color:RED, name:'prediction-line'}]);

// Page 4 figures
const R3 = [132,292], R4 = [404,564], R5 = [675,836];
drawChart('fig3a-monthly', bx(1,0,...R3), [0,4.5], [0,700], range(0,700,100), tMonthFeb,
  [{kind:'daily', vals:blue3a, day:FEB, frac:0.12, color:BLUE, name:'volatility-line'},{kind:'daily', vals:red3a, day:FEB, frac:0.1, color:RED, name:'trend-line'}]);
drawChart('fig3b-zoom', bx(1,1,...R3), [2.32,2.45], [0,600], range(0,600,100), tZoomB,
  [{vals:blue3b, color:BLUE, name:'volatility-line'},{vals:red3b, color:RED, name:'trend-line'}]);
drawChart('fig3c-zoom', bx(1,2,...R3), [3.62,3.76], [0,180], range(0,180,20), tZoomC,
  [{vals:blue3c, color:BLUE, name:'volatility-line'},{vals:red3c, color:RED, name:'trend-line'}]);

drawChart('fig4a-monthly', bx(1,0,...R4), [0,4.5], [0,900], range(0,900,100), tMonthFeb,
  [{kind:'daily', vals:blue4a, day:FEB, frac:0.12, color:BLUE, name:'irradiance-line'},{kind:'daily', vals:red4a, day:FEB, frac:0.1, color:RED, name:'prediction-line'},{kind:'daily', vals:band4a, day:FEB, frac:0.14, color:BLK, dash:'3 1.5', w:1.1, name:'confidence-band'}]);
drawChart('fig4b-zoom', bx(1,1,...R4), [2.34,2.42], [0,800], range(0,800,100), tZoomB4,
  [{vals:blue4b, color:BLUE, name:'irradiance-line'},{vals:red4b, color:RED, name:'prediction-line'},{vals:up4b, color:BLK, dash:'3 2', w:1.1, name:'band-upper'},{vals:lo4b, color:BLK, dash:'3 2', w:1.1, name:'band-lower'}]);
drawChart('fig4c-zoom', bx(1,2,...R4), [3.63,3.72], [0,400], range(0,400,50), tZoomC4,
  [{vals:blue4c, color:BLUE, name:'irradiance-line'},{vals:red4c, color:RED, name:'prediction-line'},{vals:up4c, color:BLK, dash:'3 2', w:1.1, name:'band-upper'},{vals:lo4c, color:BLK, dash:'3 2', w:1.1, name:'band-lower'}]);

drawChart('fig5a-monthly', bx(1,0,...R5), [0,4.5], [0,1600], range(0,1600,200), tMonthFeb,
  [{kind:'daily', vals:blue4a, day:FEB, frac:0.12, color:BLUE, name:'irradiance-line'},{kind:'daily', vals:red4a, day:FEB, frac:0.1, color:RED, name:'prediction-line'},{kind:'daily', vals:band5a, day:FEB, frac:0.14, color:BLK, dash:'3 1.5', w:1.1, name:'confidence-band'}]);
drawChart('fig5b-zoom', bx(1,1,...R5), [2.34,2.42], [0,800], range(0,800,100), tZoomB4,
  [{vals:blue4b, color:BLUE, name:'irradiance-line'},{vals:red4b, color:RED, name:'prediction-line'},{vals:up5b, color:BLK, dash:'3 2', w:1.1, name:'band-upper'},{vals:lo5b, color:BLK, dash:'3 2', w:1.1, name:'band-lower'}]);
drawChart('fig5c-zoom', bx(1,2,...R5), [3.63,3.72], [0,400], range(0,400,50), tZoomC4,
  [{vals:blue4c, color:BLUE, name:'irradiance-line'},{vals:red4c, color:RED, name:'prediction-line'},{vals:up5c, color:BLK, dash:'3 2', w:1.1, name:'band-upper'},{vals:lo5c, color:BLK, dash:'3 2', w:1.1, name:'band-lower'}]);

// Page 5 figures (June)
drawChart('fig6a-monthly', bx(2,0,...R3), [0,4.5], [0,1500], range(0,1500,500), tMonthFeb,
  [{kind:'daily', vals:blue6a, day:JUN, frac:0.3, color:BLUE, name:'irradiance-line'},{kind:'daily', vals:red6a, day:JUN, frac:0.3, color:RED, name:'prediction-line'}]);
drawChart('fig6b-zoom', bx(2,1,...R3), [2.32,2.45], [0,1200], range(0,1200,200), tZoomB,
  [{vals:blue6b, color:BLUE, name:'irradiance-line'},{vals:red6b, color:RED, name:'prediction-line'}]);
drawChart('fig6c-zoom', bx(2,2,...R3), [3.62,3.76], [0,1200], range(0,1200,200), tZoomC,
  [{vals:blue6c, color:BLUE, name:'irradiance-line'},{vals:red6c, color:RED, name:'prediction-line'}]);

drawChart('fig7a-monthly', bx(2,0,...R4), [0,4.5], [0,1400], range(0,1400,200), tMonthFeb,
  [{kind:'daily', vals:blue7a, day:JUN, frac:0.2, color:BLUE, name:'volatility-line'},{kind:'daily', vals:red7a, day:JUN, frac:0.25, color:RED, name:'trend-line'}]);
drawChart('fig7b-zoom', bx(2,1,...R4), [2.32,2.45], [0,400], range(0,400,50), tZoomB,
  [{vals:blue7b, color:BLUE, name:'volatility-line'},{vals:red7b, color:RED, name:'trend-line'}]);
drawChart('fig7c-zoom', bx(2,2,...R4), [3.62,3.76], [0,800], range(0,800,100), tZoomC,
  [{vals:blue7c, color:BLUE, name:'volatility-line'},{vals:red7c, color:RED, name:'trend-line'}]);

drawChart('fig8a-monthly', bx(2,0,...R5), [0,4.5], [0,1800], range(0,1800,200), tMonthFeb,
  [{kind:'daily', vals:blue6a, day:JUN, frac:0.3, color:BLUE, name:'irradiance-line'},{kind:'daily', vals:red6a, day:JUN, frac:0.3, color:RED, name:'prediction-line'},{kind:'daily', vals:band8a, day:JUN, frac:0.3, color:BLK, dash:'3 1.5', w:1.1, name:'confidence-band'}]);
drawChart('fig8b-zoom', bx(2,1,...R5), [2.32,2.45], [0,1200], range(0,1200,200), tZoomB,
  [{vals:blue8b, color:BLUE, name:'irradiance-line'},{vals:red8b, color:RED, name:'prediction-line'},{vals:up8b, color:BLK, dash:'3 2', w:1.1, name:'band-upper'},{vals:lo8b, color:BLK, dash:'3 2', w:1.1, name:'band-lower'}]);
drawChart('fig8c-zoom', bx(2,2,...R5), [3.62,3.76], [0,1600], range(0,1600,200), tZoomC,
  [{vals:blue8c, color:BLUE, name:'irradiance-line'},{vals:red8c, color:RED, name:'prediction-line'},{vals:up8c, color:BLK, dash:'3 2', w:1.1, name:'band-upper'},{vals:lo8c, color:BLK, dash:'3 2', w:1.1, name:'band-lower'}]);
</script>
</body></html>
